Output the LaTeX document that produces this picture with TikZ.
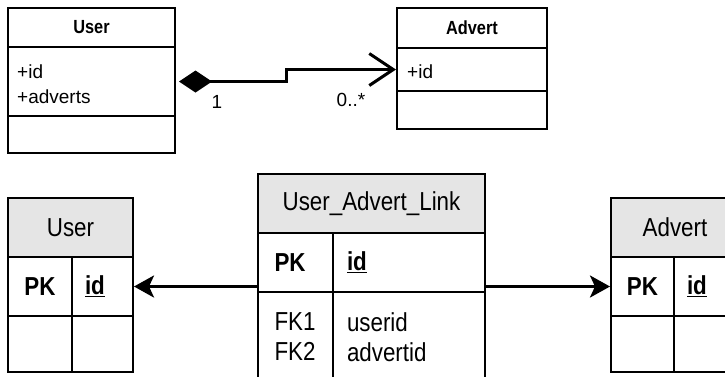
\documentclass[tikz,border=0pt]{standalone}
\usepackage{fontspec}
\setmainfont{Liberation Sans}
\newfontfamily\condfont{Liberation Sans}[FakeStretch=0.86]
\usetikzlibrary{arrows.meta}

\definecolor{headgray}{gray}{0.9}

\tikzset{
  umlbox/.style={draw, line width=2pt, inner sep=0pt, font=\fontsize{19}{25}\selectfont},
  umlhead/.style={umlbox, font=\condfont\bfseries\fontsize{19}{25}\selectfont},
  umltext/.style={inner sep=0pt, align=left, font=\fontsize{19}{25}\selectfont},
  dbcell/.style={draw, line width=2pt, inner sep=0pt, font=\condfont\fontsize{26}{30}\selectfont},
  dbhead/.style={dbcell, fill=headgray},
  mult/.style={inner sep=0pt, font=\fontsize{19}{25}\selectfont},
  assoc/.style={line width=3pt, shorten <=3pt,
    {Diamond[length=33pt,width=22pt]}-{Straight Barb[length=24pt,width=32pt]}},
  fk/.style={line width=3pt, -{Stealth[length=20pt,width=22pt,inset=5pt]}}
}

\begin{document}
\begin{tikzpicture}[x=1pt, y=-1pt]
\clip (0,0) rectangle (725,376);

% class diagram
\node[umlhead, minimum width=167pt, minimum height=39pt] (user head) at (91.5,27.5) {User};
\node[umlbox, minimum width=167pt, minimum height=69pt] (user attrs) at (91.5,81.5) {};
\node[umltext, anchor=north west] (user attr list) at (17,65) {+id\\+adverts};
\node[umlbox, minimum width=167pt, minimum height=37pt] (user ops) at (91.5,134.5) {};

\node[umlhead, minimum width=150pt, minimum height=40pt] (adv head) at (472,28) {Advert};
\node[umlbox, minimum width=150pt, minimum height=43pt] (adv attrs) at (472,69.5) {};
\node[umltext, anchor=north west] (adv attr list) at (407,65) {+id};
\node[umlbox, minimum width=150pt, minimum height=38pt] (adv ops) at (472,110) {};

\draw[assoc] (user attrs.east) -- ++(110,0) |- (adv attrs.west);
\node[mult] (one) at (217,102) {1};
\node[mult] (many) at (351,100) {0..*};

% tables
\node[dbhead, minimum width=125pt, minimum height=59pt] (user tbl) at (70.5,227.5) {User};
\node[dbcell, minimum width=64pt, minimum height=59pt] (user pk) at (40,286.5) {\bfseries PK};
\node[dbcell, minimum width=61pt, minimum height=59pt, text width=35pt, align=left] (user id) at (102.5,286.5) {\bfseries\underline{id}};
\node[dbcell, minimum width=64pt, minimum height=56pt] (user e1) at (40,344) {};
\node[dbcell, minimum width=61pt, minimum height=56pt] (user e2) at (102.5,344) {};

\node[dbhead, minimum width=227pt, minimum height=59pt] (link tbl) at (371.5,203.5) {User\_Advert\_Link};
\node[dbcell, minimum width=75pt, minimum height=59pt, text width=42pt, align=left] (link pk) at (295.5,262.5) {\bfseries PK};
\node[dbcell, minimum width=152pt, minimum height=59pt, text width=124pt, align=left] (link id) at (409,262.5) {\bfseries\underline{id}};
\node[dbcell, minimum width=75pt, minimum height=90pt, text width=42pt, align=left] (link fk) at (295.5,337) {FK1\\FK2};
\node[dbcell, minimum width=152pt, minimum height=90pt, text width=124pt, align=left] (link cols) at (409,337) {userid\\advertid};

\node[dbhead, minimum width=128pt, minimum height=59pt] (adv tbl) at (675,227.5) {Advert};
\node[dbcell, minimum width=63pt, minimum height=59pt] (adv pk) at (642.5,286.5) {\bfseries PK};
\node[dbcell, minimum width=65pt, minimum height=59pt, text width=39pt, align=left] (adv id) at (706.5,286.5) {\bfseries\underline{id}};
\node[dbcell, minimum width=63pt, minimum height=56pt] (adv e1) at (642.5,344) {};
\node[dbcell, minimum width=65pt, minimum height=56pt] (adv e2) at (706.5,344) {};

\draw[fk] (link tbl.west |- user id.east) -- (user id.east);
\draw[fk] (link tbl.east |- adv pk.west) -- (adv pk.west);
\end{tikzpicture}
\end{document}
